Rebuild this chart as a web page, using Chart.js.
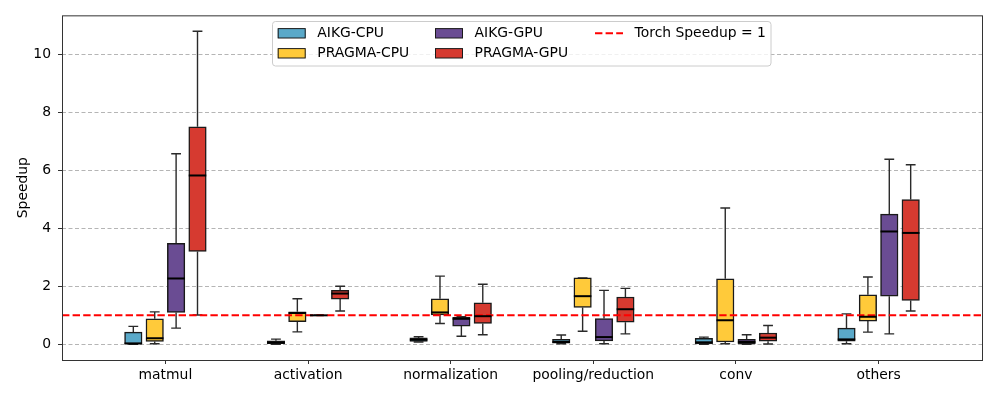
<!DOCTYPE html>
<html>
<head>
<meta charset="utf-8">
<script src="https://cdn.jsdelivr.net/npm/chart.js@4.4.0/dist/chart.umd.min.js"></script>
<style>
    html, body { margin: 0; padding: 0; background: #fff; }
    #wrap { width: 997px; height: 399px; }
</style>
</head>
<body>
<div id="wrap"><canvas id="speedupChart" width="997" height="399"></canvas></div>
<script>
(function(){
    "use strict";

    const categories = ['matmul', 'activation', 'normalization', 'pooling/reduction', 'conv', 'others'];
    const seriesNames = ['AIKG-CPU', 'PRAGMA-CPU', 'AIKG-GPU', 'PRAGMA-GPU'];
    const seriesColors = ['#5aa9c9', '#ffca3a', '#6a4c93', '#d63a30'];
    const seriesOffsets = [-0.225, -0.075, 0.075, 0.225];

    // [min, q1, median, q3, max] for each category
    const aikgCpu = [
        [0.00, 0.01, 0.03, 0.42, 0.62],
        [0.00, 0.02, 0.06, 0.12, 0.18],
        [0.08, 0.10, 0.16, 0.22, 0.26],
        [0.02, 0.04, 0.08, 0.17, 0.32],
        [0.00, 0.01, 0.07, 0.21, 0.25],
        [0.02, 0.11, 0.17, 0.56, 1.05]
    ];
    const pragmaCpu = [
        [0.02, 0.10, 0.21, 0.88, 1.12],
        [0.43, 0.78, 1.08, 1.12, 1.57],
        [0.72, 1.01, 1.10, 1.57, 2.35],
        [0.45, 1.27, 1.66, 2.29, 2.29],
        [0.02, 0.08, 0.83, 2.26, 4.70],
        [0.42, 0.80, 0.95, 1.71, 2.32]
    ];
    const aikgGpu = [
        [0.56, 1.10, 2.27, 3.48, 6.57],
        [1.00, 1.00, 1.00, 1.00, 1.00],
        [0.28, 0.63, 0.88, 0.93, 0.95],
        [0.02, 0.12, 0.25, 0.89, 1.86],
        [0.00, 0.00, 0.08, 0.17, 0.33],
        [0.36, 1.66, 3.89, 4.49, 6.38]
    ];
    const pragmaGpu = [
        [1.01, 3.20, 5.82, 7.50, 10.79],
        [1.15, 1.56, 1.75, 1.86, 2.00],
        [0.33, 0.72, 0.97, 1.43, 2.07],
        [0.36, 0.76, 1.21, 1.63, 1.93],
        [0.01, 0.11, 0.23, 0.39, 0.65],
        [1.15, 1.51, 3.84, 4.99, 6.19]
    ];
    const seriesStats = [aikgCpu, pragmaCpu, aikgGpu, pragmaGpu];

    const yTicks = [0, 2, 4, 6, 8, 10];
    const yMin = -0.54, yMax = 11.34;
    const xMin = -0.725, xMax = 5.725;
    const torchSpeedup = 1;
    const torchLabel = 'Torch Speedup = 1';

    const FONT = 'DejaVu Sans';
    const FONT_SIZE = 13.9;

    // box datasets are floating bars [q1, q3]
    const boxDatasets = seriesStats.map((stats, s) => ({
        type: 'bar',
        label: seriesNames[s],
        data: stats.map((st, i) => ({ x: i + seriesOffsets[s], y: [st[1], st[3]] })),
        stats: stats,
        backgroundColor: seriesColors[s],
        borderColor: '#1a1a1a',
        borderWidth: 1.5,
        borderSkipped: false,
        barThickness: 17.5,
        grouped: false,
        order: 2
    }));

    const torchDataset = {
        type: 'line',
        label: torchLabel,
        data: [{ x: xMin, y: torchSpeedup }, { x: xMax, y: torchSpeedup }],
        borderColor: '#ff0000',
        borderWidth: 2,
        borderDash: [7.4, 3.2],
        pointRadius: 0,
        fill: false,
        order: 1
    };

    // whiskers + caps behind the boxes, medians on top
    const boxPlotPlugin = {
        id: 'boxPlot',
        beforeDatasetsDraw(chart) {
            const ctx = chart.ctx;
            const y = chart.scales.y;
            ctx.save();
            ctx.strokeStyle = '#2a2a2a';
            ctx.lineWidth = 1.4;
            chart.data.datasets.forEach((ds, d) => {
                if (!ds.stats) return;
                const meta = chart.getDatasetMeta(d);
                meta.data.forEach((bar, i) => {
                    const st = ds.stats[i];
                    const cx = bar.x;
                    const half = bar.width * 0.28;
                    ctx.beginPath();
                    ctx.moveTo(cx, y.getPixelForValue(st[0]));
                    ctx.lineTo(cx, y.getPixelForValue(st[1]));
                    ctx.moveTo(cx, y.getPixelForValue(st[3]));
                    ctx.lineTo(cx, y.getPixelForValue(st[4]));
                    ctx.moveTo(cx - half, y.getPixelForValue(st[0]));
                    ctx.lineTo(cx + half, y.getPixelForValue(st[0]));
                    ctx.moveTo(cx - half, y.getPixelForValue(st[4]));
                    ctx.lineTo(cx + half, y.getPixelForValue(st[4]));
                    ctx.stroke();
                });
            });
            ctx.restore();
        },
        afterDatasetsDraw(chart) {
            const ctx = chart.ctx;
            const y = chart.scales.y;
            const area = chart.chartArea;
            ctx.save();
            ctx.strokeStyle = '#000';
            ctx.lineWidth = 2;
            chart.data.datasets.forEach((ds, d) => {
                if (!ds.stats) return;
                const meta = chart.getDatasetMeta(d);
                meta.data.forEach((bar, i) => {
                    const my = y.getPixelForValue(ds.stats[i][2]);
                    ctx.beginPath();
                    ctx.moveTo(bar.x - bar.width / 2, my);
                    ctx.lineTo(bar.x + bar.width / 2, my);
                    ctx.stroke();
                });
            });
            // axes frame
            ctx.strokeStyle = '#333';
            ctx.lineWidth = 1;
            ctx.strokeRect(area.left + 0.5, area.top + 0.5, area.right - area.left, area.bottom - area.top);
            ctx.restore();
        }
    };

    // matplotlib-style framed legend, 3 columns filled column by column
    const legendPlugin = {
        id: 'frameLegend',
        afterDraw(chart) {
            const ctx = chart.ctx;
            const box = { x: 272.5, y: 21.5, w: 498.5, h: 44.5 };
            const colX = [277.7, 435, 595];
            const rowY = [33.3, 53.3];
            ctx.save();
            ctx.beginPath();
            ctx.roundRect(box.x, box.y, box.w, box.h, 3);
            ctx.fillStyle = 'rgba(255,255,255,0.8)';
            ctx.fill();
            ctx.strokeStyle = '#cccccc';
            ctx.lineWidth = 1;
            ctx.stroke();

            ctx.font = FONT_SIZE + 'px "' + FONT + '"';
            ctx.textBaseline = 'middle';
            ctx.fillStyle = '#000';
            const items = chart.data.datasets.map(ds => ds);
            // column-major order: boxes first, torch line last
            items.forEach((ds, k) => {
                const col = Math.floor(k / 2);
                const row = k % 2;
                const px = colX[col];
                const py = rowY[row];
                if (ds.type === 'line') {
                    ctx.strokeStyle = ds.borderColor;
                    ctx.lineWidth = ds.borderWidth;
                    ctx.setLineDash(ds.borderDash);
                    ctx.beginPath();
                    ctx.moveTo(px, py);
                    ctx.lineTo(px + 28, py);
                    ctx.stroke();
                    ctx.setLineDash([]);
                } else {
                    ctx.fillStyle = ds.backgroundColor;
                    ctx.fillRect(px, py - 4.7, 28, 9.4);
                    ctx.strokeStyle = '#1a1a1a';
                    ctx.lineWidth = 1;
                    ctx.strokeRect(px + 0.5, py - 4.7, 27, 9.4);
                }
                ctx.fillStyle = '#000';
                ctx.fillText(ds.label, px + 39.6, py);
            });
            ctx.restore();
        }
    };

    function createChart() {
        const ctx = document.getElementById('speedupChart').getContext('2d');
        return new Chart(ctx, {
            type: 'bar',
            data: {
                datasets: boxDatasets.concat([torchDataset])
            },
            options: {
                responsive: false,
                devicePixelRatio: 1,
                animation: false,
                layout: { padding: { top: 15, right: 15, left: 0, bottom: 0 } },
                scales: {
                    x: {
                        type: 'linear',
                        min: xMin,
                        max: xMax,
                        offset: false,
                        afterBuildTicks: (scale) => {
                            scale.ticks = categories.map((c, i) => ({ value: i }));
                        },
                        afterFit: (scale) => { scale.height = 39; },
                        ticks: {
                            callback: (value) => categories[value],
                            color: '#000',
                            font: { family: FONT, size: FONT_SIZE },
                            padding: 3,
                            maxRotation: 0,
                            autoSkip: false
                        },
                        grid: {
                            drawOnChartArea: false,
                            offset: false,
                            tickLength: 4,
                            tickColor: '#333',
                            tickWidth: 1
                        },
                        border: { display: false }
                    },
                    y: {
                        min: yMin,
                        max: yMax,
                        afterBuildTicks: (scale) => {
                            scale.ticks = yTicks.map(v => ({ value: v }));
                        },
                        afterFit: (scale) => { scale.width = 62; },
                        ticks: {
                            color: '#000',
                            font: { family: FONT, size: FONT_SIZE },
                            padding: 7
                        },
                        grid: {
                            color: '#b5b5b5',
                            lineWidth: 1,
                            tickLength: 4,
                            tickColor: '#333',
                            tickWidth: 1,
                            tickBorderDash: []
                        },
                        border: { display: false, dash: [4, 2.5] },
                        title: {
                            display: true,
                            text: 'Speedup',
                            color: '#000',
                            font: { family: FONT, size: FONT_SIZE },
                            padding: { top: 15, bottom: 0 }
                        }
                    }
                },
                plugins: {
                    legend: { display: false },
                    tooltip: { enabled: false }
                }
            },
            plugins: [boxPlotPlugin, legendPlugin]
        });
    }

    createChart();
})();
</script>
</body>
</html>
